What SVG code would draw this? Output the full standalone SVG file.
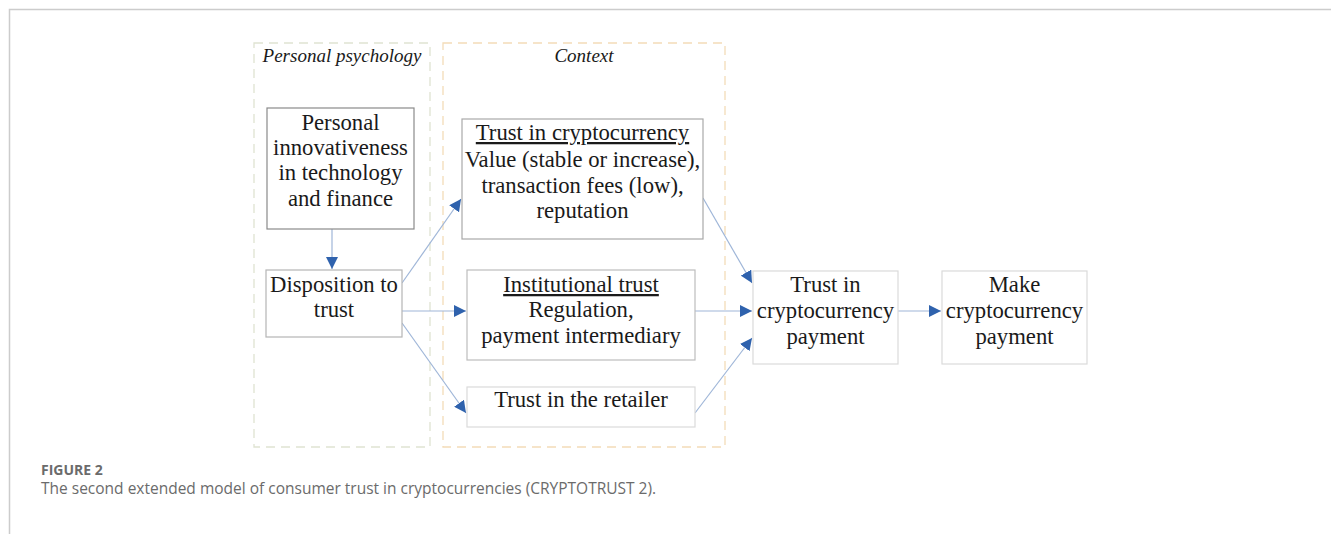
<svg xmlns="http://www.w3.org/2000/svg" width="1331" height="534" viewBox="0 0 1331 534">
<style>
.t{font-family:"Liberation Serif",serif;font-size:22.7px;fill:#1a1a1a;text-anchor:middle}
.u{text-decoration:underline}
.it{font-family:"Liberation Serif",serif;font-size:19px;font-style:italic;fill:#1a1a1a;text-anchor:middle}
.box{fill:#fff;stroke:#c8c8c8;stroke-width:1.2}
.con{stroke:#9fb6d8;stroke-width:1.2;fill:none;marker-end:url(#ah)}
.cap1{font-family:"Open Sans",sans-serif;font-size:14px;font-weight:bold;fill:#6b6b6b}
.cap2{font-family:"Open Sans",sans-serif;font-size:15.5px;fill:#6b6b6b}
</style>
<defs>
<marker id="ah" viewBox="0 0 10 10" refX="10" refY="5" markerWidth="12" markerHeight="12" markerUnits="userSpaceOnUse" orient="auto">
<path d="M0,0 L10,5 L0,10 Z" fill="#2f62ad"/>
</marker>
</defs>
<rect width="1331" height="534" fill="#fff"/>
<path d="M9.5,534 V9.5 H1331" fill="none" stroke="#cccccc" stroke-width="1.5"/>
<g id="group-personal">
<rect x="254" y="43" width="176" height="404" fill="none" stroke="#dfe3d2" stroke-width="1.3" stroke-dasharray="9,6"/>
<text class="it" x="342" y="62">Personal psychology</text>
</g>
<g id="group-context">
<rect x="443" y="43" width="282" height="404" fill="none" stroke="#f3dcb8" stroke-width="1.3" stroke-dasharray="9,6"/>
<text class="it" x="584" y="62">Context</text>
</g>
<g id="connectors">
<line class="con" x1="332" y1="229" x2="332" y2="269"/>
<line class="con" x1="402" y1="283" x2="461" y2="199"/>
<line class="con" x1="402" y1="311" x2="466" y2="311"/>
<line class="con" x1="402" y1="323" x2="466" y2="413"/>
<line class="con" x1="703" y1="198" x2="752" y2="283"/>
<line class="con" x1="695" y1="311" x2="752" y2="311"/>
<line class="con" x1="695" y1="413" x2="752" y2="338"/>
<line class="con" x1="898" y1="311" x2="941" y2="311"/>
</g>
<g id="node-innovativeness">
<rect class="box" x="267" y="108" width="147" height="121" style="stroke:#8a8a8a"/>
<text class="t" x="340.5" y="130">Personal</text>
<text class="t" x="340.5" y="155">innovativeness</text>
<text class="t" x="340.5" y="180">in technology</text>
<text class="t" x="340.5" y="206">and finance</text>
</g>
<g id="node-disposition">
<rect class="box" x="266" y="270" width="136" height="67" style="stroke:#b5b5b5"/>
<text class="t" x="334" y="292">Disposition to</text>
<text class="t" x="334" y="317">trust</text>
</g>
<g id="node-trust-crypto">
<rect class="box" x="462" y="119" width="241" height="120" style="stroke:#a9a9a9"/>
<text class="t u" x="582.5" y="140">Trust in cryptocurrency</text>
<text class="t" x="582.5" y="167">Value (stable or increase),</text>
<text class="t" x="582.5" y="193">transaction fees (low),</text>
<text class="t" x="582.5" y="218">reputation</text>
</g>
<g id="node-institutional">
<rect class="box" x="467" y="270" width="228" height="90" style="stroke:#bdbdbd"/>
<text class="t u" x="581" y="292">Institutional trust</text>
<text class="t" x="581" y="317">Regulation,</text>
<text class="t" x="581" y="343">payment intermediary</text>
</g>
<g id="node-retailer">
<rect class="box" x="467" y="387" width="228" height="40" style="stroke:#dadada"/>
<text class="t" x="581" y="407">Trust in the retailer</text>
</g>
<g id="node-trust-payment">
<rect class="box" x="753" y="271" width="145" height="93" style="stroke:#dadada"/>
<text class="t" x="825.5" y="292">Trust in</text>
<text class="t" x="825.5" y="318">cryptocurrency</text>
<text class="t" x="825.5" y="344">payment</text>
</g>
<g id="node-make-payment">
<rect class="box" x="942" y="271" width="145" height="93" style="stroke:#dadada"/>
<text class="t" x="1014.5" y="292">Make</text>
<text class="t" x="1014.5" y="318">cryptocurrency</text>
<text class="t" x="1014.5" y="344">payment</text>
</g>
<g id="caption">
<text class="cap1" x="41" y="475">FIGURE 2</text>
<text class="cap2" x="41" y="494">The second extended model of consumer trust in cryptocurrencies (CRYPTOTRUST 2).</text>
</g>
</svg>
